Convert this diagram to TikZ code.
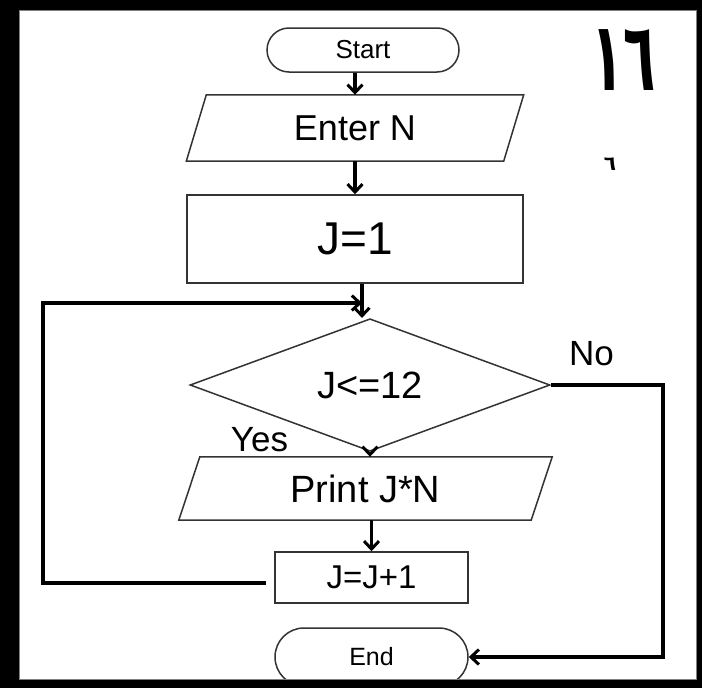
\documentclass[tikz,border=0pt]{standalone}
\usepackage{fontspec}
\setmainfont{Liberation Sans}
\newfontfamily\arabicfont[Script=Arabic]{DejaVu Sans}
\usepackage{graphicx}
\usetikzlibrary{arrows.meta,shapes.misc,shapes.geometric,calc}
\tikzset{
  outline/.style={draw=black!80, line width=1.5pt},
  term/.style={outline, rounded rectangle, inner sep=0pt},
  procbox/.style={outline, rectangle, inner sep=0pt},
  iobox/.style={rectangle, inner sep=0pt},
  decbox/.style={outline, diamond, inner sep=0pt},
  conn/.style={line width=3.4pt, black},
  arr/.style={conn, -{Straight Barb[length=8pt,width=15pt,line width=3pt]}},
  lbl/.style={inner sep=0pt},
}
\newcommand{\fsz}[1]{\fontsize{#1}{#1}\selectfont}
\begin{document}
\begin{tikzpicture}[x=1pt,y=-1pt]
\useasboundingbox (0,0) rectangle (702,688);
\fill[white] (0,0) rectangle (702,688);

% terminals
\node[term, minimum width=192, minimum height=44, font=\fsz{26}] (start) at (363,50) {Start};
\node[term, minimum width=193, minimum height=58, font=\fsz{25}] (end) at (371.5,657) {End};

% input
\node[iobox, minimum width=317, minimum height=66, font=\fsz{36}] (enter) at (355,128) {Enter N};
\draw[outline] ($(enter.north west)+(10,0)$) -- ($(enter.north east)+(10,0)$)
  -- ($(enter.south east)-(10,0)$) -- ($(enter.south west)-(10,0)$) -- cycle;

% J=1
\node[procbox, minimum width=336, minimum height=88, font=\fsz{46}] (j1) at (355,239) {J=1};

% decision
\node[decbox, minimum width=360, minimum height=114, font=\fsz{38}] (dec) at (370,385) {J<=12};

% output
\node[iobox, minimum width=352, minimum height=63, font=\fsz{38}] (print) at (365.5,488.5) {Print J*N};
\draw[outline] ($(print.north west)+(10.5,0)$) -- ($(print.north east)+(10.5,0)$)
  -- ($(print.south east)-(10.5,0)$) -- ($(print.south west)-(10.5,0)$) -- cycle;

% J=J+1
\node[procbox, minimum width=193, minimum height=51, font=\fsz{33}] (jj) at (371.5,577.5) {J=J+1};

% labels
\node[lbl, font=\fsz{35}] (yes) at (259.5,440) {Yes};
\node[lbl, font=\fsz{35}] (no) at (591.5,354) {No};

% connectors
\coordinate (m) at (362,303);
\coordinate (loopL) at (43,583);
\coordinate (noR) at (663,385);
\draw[arr] (start.south -| enter.north) -- (enter.north);
\draw[arr] (enter.south) -- (j1.north);
\draw[arr] (j1.south -| m) -- (dec.north -| m);
\draw[arr] (dec.south) -- (dec.south |- print.north);
\draw[arr] (print.south -| jj.north) -- (jj.north);
\draw[arr] ($(jj.west)+(-8,5.5)$) -- (loopL) |- (m);
\draw[arr] (dec.east) -- (noR) |- (end.east);

% frame
\fill[black, even odd rule] (0,0) rectangle (702,688) (19,10) rectangle (697,680);
\draw[gray, line width=1pt] (19.5,10.5) rectangle (696.5,679.5);

% arabic numerals
\node[lbl, font=\arabicfont\bfseries\fsz{96}] (num) at (624,60) {\scalebox{0.55}[1]{١٦}};
\node[lbl, font=\arabicfont\bfseries\fsz{20}] (mark) at (610,164) {٦};
\end{tikzpicture}
\end{document}
